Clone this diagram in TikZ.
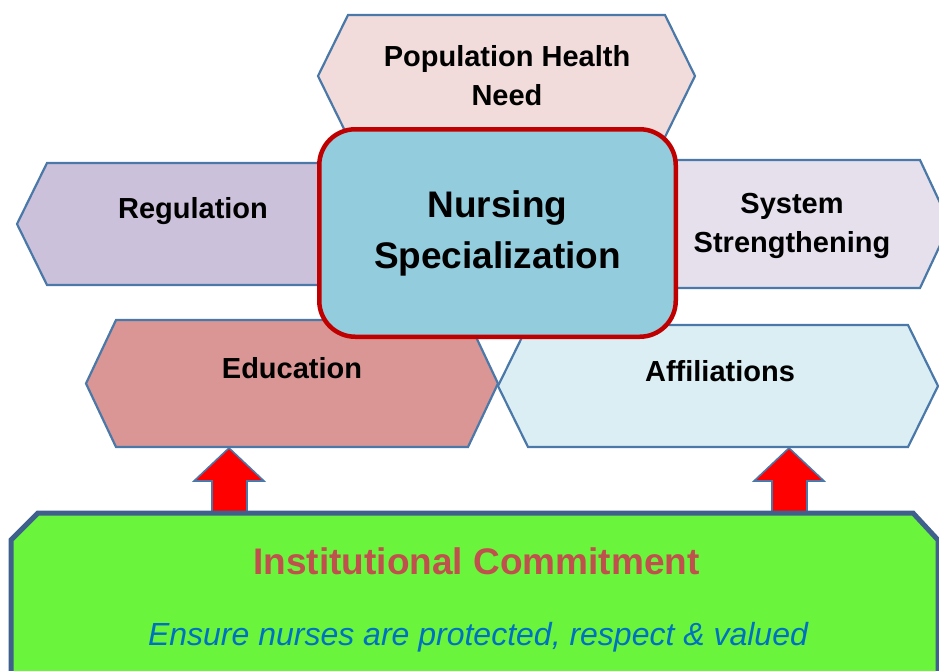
\documentclass[tikz,border=0pt]{standalone}
\usepackage{fontspec}
\setmainfont{Liberation Sans}

\definecolor{hexblue}{HTML}{4A78A8}
\definecolor{popfill}{HTML}{F2DCDB}
\definecolor{regfill}{HTML}{CCC1DA}
\definecolor{sysfill}{HTML}{E5E0EC}
\definecolor{edufill}{HTML}{D99694}
\definecolor{afffill}{HTML}{DBEEF4}
\definecolor{corefill}{HTML}{93CDDD}
\definecolor{corered}{HTML}{C00000}
\definecolor{basefill}{HTML}{6BF43C}
\definecolor{baseedge}{HTML}{3F5F8C}
\definecolor{titlered}{HTML}{C0504D}
\definecolor{mottoblue}{HTML}{0070C0}

% hexagon with 30pt side points: \drawhex{style}{left}{top}{right}{bottom}
\newcommand\drawhex[5]{%
  \path[#1] (#2,{(#3+#5)/2}) -- (#2+30,#3) -- (#4-30,#3) -- (#4,{(#3+#5)/2})
    -- (#4-30,#5) -- (#2+30,#5) -- cycle;}

\begin{document}
\begin{tikzpicture}[x=1pt,y=-1pt,
  hexbox/.style={draw=hexblue, line width=2.2pt, line join=miter},
  hexlabel/.style={font=\fontsize{29}{39}\selectfont\bfseries, align=center,
    text=black, inner sep=0pt},
  upblock/.style={fill=red, draw=hexblue, line width=1.6pt, line join=miter},
]
\useasboundingbox (0,0) rectangle (939,670);
\clip (0,0) rectangle (939,670);

% outer ring of factors
\drawhex{hexbox, fill=popfill}{318}{15}{695}{137}
\drawhex{hexbox, fill=regfill}{17}{163}{362}{285}
\drawhex{hexbox, fill=sysfill}{636}{160}{950}{288}
\drawhex{hexbox, fill=edufill}{86}{320}{498}{447}
\drawhex{hexbox, fill=afffill}{498}{325}{938}{447}

\node[hexlabel] (pop) at (507,76) {Population Health\\Need};
\node[hexlabel] (reg) at (193,211) {Regulation};
\node[hexlabel] (sys) at (792,226) {System\\Strengthening};
\node[hexlabel] (edu) at (292,368.5) {Education};
\node[hexlabel] (aff) at (720,371.5) {Affiliations};

% central box
\node[draw=corered, line width=4.5pt, fill=corefill, rounded corners=36pt,
  minimum width=356.5pt, minimum height=207.5pt, align=center,
  font=\fontsize{37}{51}\selectfont\bfseries] (core) at (497.5,233)
  {Nursing\\Specialization};

% block arrows rising from the foundation
\coordinate (baseL) at (229,513);
\coordinate (baseR) at (789,513);
\coordinate (eduTip) at (229,448);
\coordinate (affTip) at (789,448);

\draw[upblock] (eduTip) -- ++(35,33) -- ++(-17,0) |- (baseL)
  -- ++(-17,0) -- ++(0,-32) -- ++(-18,0) -- cycle;
\draw[upblock] (affTip) -- ++(35,33) -- ++(-17,0) |- (baseR)
  -- ++(-17,0) -- ++(0,-32) -- ++(-18,0) -- cycle;

% foundation block
\path[fill=basefill, draw=baseedge, line width=5pt, line join=miter]
  (38,513) -- (913,513) -- (938,540) -- (938,700) -- (11,700) -- (11,540) -- cycle;

\node[font=\fontsize{37}{44}\selectfont\bfseries, text=titlered, inner sep=0pt]
  (commit) at (476.5,561.5) {Institutional Commitment};
\node[font=\fontsize{32}{38}\selectfont\itshape, text=mottoblue, inner sep=0pt]
  (motto) at (478,637) {Ensure nurses are protected, respect \& valued};
\end{tikzpicture}
\end{document}
